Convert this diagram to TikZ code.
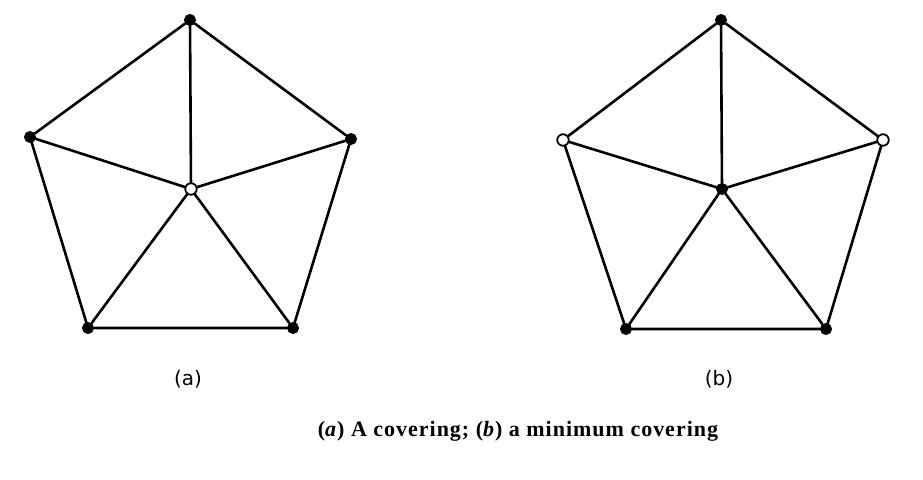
\documentclass[tikz,border=0pt]{standalone}
\usepackage{fontspec}
\setmainfont{Liberation Serif}
\newfontfamily\labfont{DejaVu Sans}
\newfontfamily\capfont[LetterSpace=4.5]{Liberation Serif}
\begin{document}
\begin{tikzpicture}[x=1pt,y=-1pt,
  edge/.style={line width=2.6pt,line cap=round},
  full/.style={circle,fill=black,draw=black,line width=1pt,minimum size=11pt,inner sep=0pt},
  hollow/.style={circle,fill=white,draw=black,line width=1.8pt,minimum size=11.5pt,inner sep=0pt},
  lab/.style={font=\labfont\fontsize{20}{22}\selectfont},
  captext/.style={font=\capfont\bfseries\fontsize{22}{24}\selectfont}]
\useasboundingbox (0,0) rectangle (923,479);
% graph (a)
\node[full] (at) at (190,20) {};
\node[full] (al) at (30,137) {};
\node[full] (ar) at (351,139) {};
\node[full] (abl) at (88,328) {};
\node[full] (abr) at (293,328) {};
\node[hollow] (ac) at (191,189) {};
\draw[edge] (at) -- (al) (al) -- (abl) (abl) -- (abr) (abr) -- (ar) (ar) -- (at);
\draw[edge] (ac) -- (at) (ac) -- (al) (ac) -- (ar) (ac) -- (abl) (ac) -- (abr);
% graph (b)
\node[full] (bt) at (721,20) {};
\node[hollow] (bl) at (563,140) {};
\node[hollow] (br) at (883,140) {};
\node[full] (bbl) at (626,329) {};
\node[full] (bbr) at (826,329) {};
\node[full] (bc) at (722,189) {};
\draw[edge] (bt) -- (bl) (bl) -- (bbl) (bbl) -- (bbr) (bbr) -- (br) (br) -- (bt);
\draw[edge] (bc) -- (bt) (bc) -- (bl) (bc) -- (br) (bc) -- (bbl) (bc) -- (bbr);
% labels
\node[lab] (la) at (188,379) {(a)};
\node[lab] (lb) at (719,379) {(b)};
\node[captext] (caption) at (518,431) {(\textit{a}) A covering; (\textit{b}) a minimum covering};
\end{tikzpicture}
\end{document}
